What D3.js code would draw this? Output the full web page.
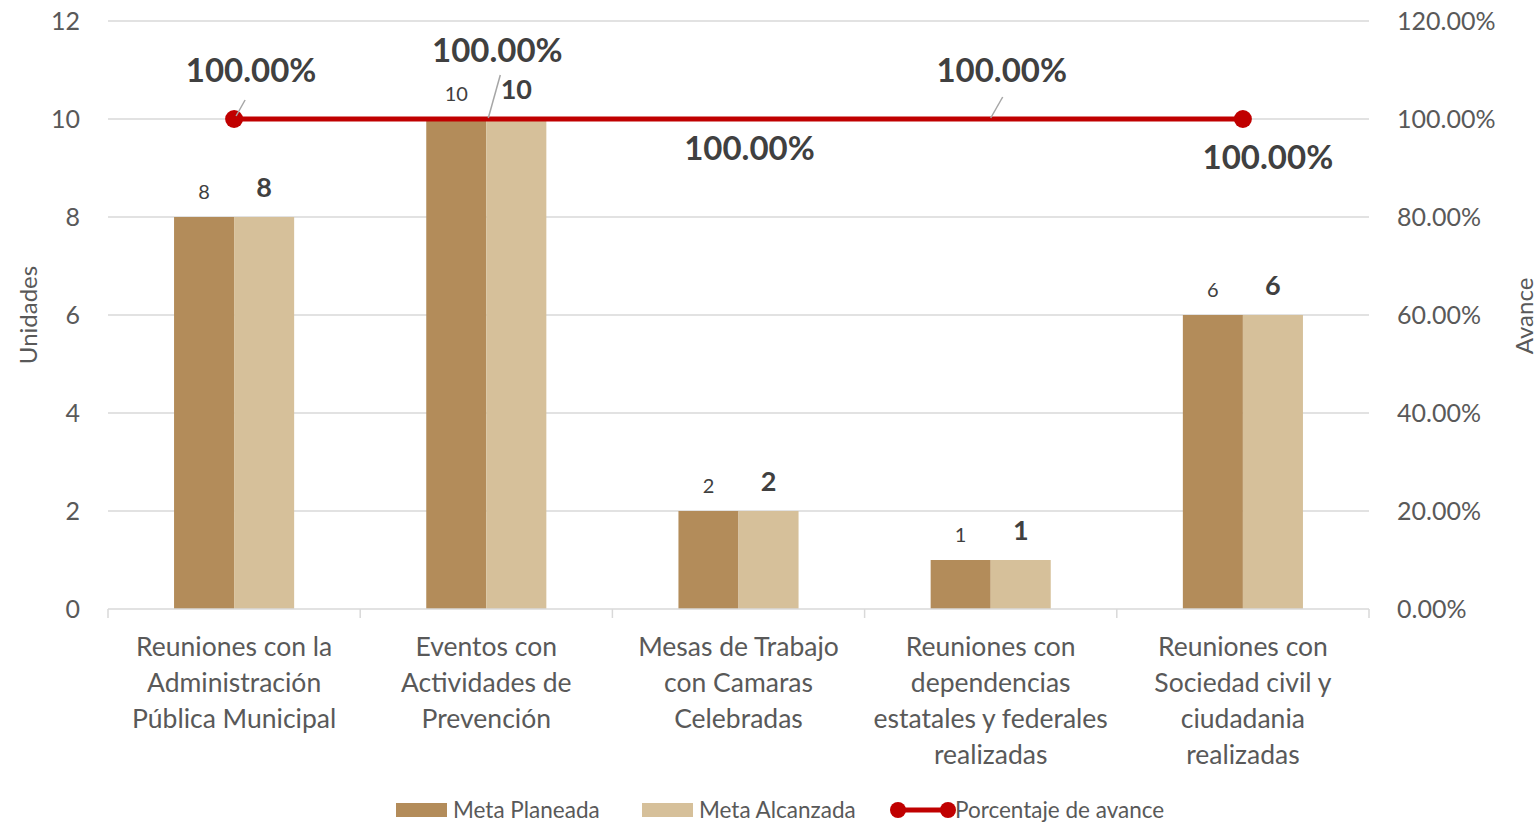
<!DOCTYPE html>
<html>
<head>
<meta charset="utf-8">
<script src="https://cdn.jsdelivr.net/npm/d3@7"></script>
<style>
  body { margin: 0; background: #fff; }
  text { font-family: Lato, "Open Sans", sans-serif; }
</style>
</head>
<body>
<script>
var width = 1540;
var height = 823;

// data
var categories = [
  ["Reuniones con la", "Administración", "Pública Municipal"],
  ["Eventos con", "Actividades de", "Prevención"],
  ["Mesas de Trabajo", "con Camaras", "Celebradas"],
  ["Reuniones con", "dependencias", "estatales y federales", "realizadas"],
  ["Reuniones con", "Sociedad civil y", "ciudadania", "realizadas"]
];
var metaPlaneada = [8, 10, 2, 1, 6];
var metaAlcanzada = [8, 10, 2, 1, 6];
var avance = [1, 1, 1, 1, 1];
var leftTicks = [0, 2, 4, 6, 8, 10, 12];
var rightTicks = [0, 0.2, 0.4, 0.6, 0.8, 1.0, 1.2];

var colPlan = "#B38C5A";
var colAlc = "#D6C09A";
var colLine = "#C00000";
var textCol = "#595959";

var margin = {left: 108, right: 171, top: 21, bottom: 214};
var x0 = margin.left, x1 = width - margin.right;
var yTop = margin.top, yBot = height - margin.bottom;

var svg = d3.select("body").append("svg")
  .attr("width", width).attr("height", height);

var x = d3.scaleBand().domain(d3.range(categories.length)).range([x0, x1]).paddingInner(0).paddingOuter(0);
var xs = d3.scaleBand().domain(["p", "a"]).range([0, x.bandwidth()]).paddingInner(0).paddingOuter(1.1);
var y = d3.scaleLinear().domain([0, 12]).range([yBot, yTop]);
var y2 = d3.scaleLinear().domain([0, 1.2]).range([yBot, yTop]);

// gridlines
svg.append("g").selectAll("line").data(leftTicks.slice(1)).enter().append("line")
  .attr("x1", x0).attr("x2", x1)
  .attr("y1", d => y(d)).attr("y2", d => y(d))
  .attr("stroke", "#d9d9d9").attr("stroke-width", 1.5);

// left axis labels
svg.append("g").selectAll("text").data(leftTicks).enter().append("text")
  .attr("x", 80).attr("y", d => y(d)).attr("dy", "0.35em")
  .attr("text-anchor", "end").attr("font-size", 25).attr("fill", textCol)
  .text(d => d);

// right axis labels
svg.append("g").selectAll("text").data(rightTicks).enter().append("text")
  .attr("x", 1397).attr("y", d => y2(d)).attr("dy", "0.35em")
  .attr("text-anchor", "start").attr("font-size", 25).attr("fill", textCol)
  .text(d => d3.format(".2%")(d));

// axis titles
svg.append("text").attr("transform", "translate(37," + 315 + ") rotate(-90)")
  .attr("text-anchor", "middle").attr("font-size", 24).attr("fill", textCol).text("Unidades");
svg.append("text").attr("transform", "translate(1533,316) rotate(-90)")
  .attr("text-anchor", "middle").attr("font-size", 24).attr("fill", textCol).text("Avance");

// bars
var groups = svg.append("g").selectAll("g").data(categories).enter().append("g")
  .attr("transform", (d, i) => "translate(" + x(i) + ",0)");
groups.append("rect")
  .attr("x", xs("p")).attr("width", xs.bandwidth())
  .attr("y", (d, i) => y(metaPlaneada[i])).attr("height", (d, i) => yBot - y(metaPlaneada[i]))
  .attr("fill", colPlan);
groups.append("rect")
  .attr("x", xs("a")).attr("width", xs.bandwidth())
  .attr("y", (d, i) => y(metaAlcanzada[i])).attr("height", (d, i) => yBot - y(metaAlcanzada[i]))
  .attr("fill", colAlc);
groups.append("text")
  .attr("x", xs("p") + xs.bandwidth() / 2).attr("y", (d, i) => y(metaPlaneada[i]) - 18)
  .attr("text-anchor", "middle").attr("font-size", 20).attr("fill", "#404040")
  .text((d, i) => metaPlaneada[i]);
groups.append("text")
  .attr("x", xs("a") + xs.bandwidth() / 2).attr("y", (d, i) => y(metaAlcanzada[i]) - 20)
  .attr("text-anchor", "middle").attr("font-size", 27).attr("font-weight", "bold").attr("fill", "#404040")
  .text((d, i) => metaAlcanzada[i]);

// bottom axis line and ticks
svg.append("line").attr("x1", x0).attr("x2", x1).attr("y1", yBot).attr("y2", yBot)
  .attr("stroke", "#d9d9d9").attr("stroke-width", 1.5);
svg.append("g").selectAll("line").data(d3.range(categories.length + 1)).enter().append("line")
  .attr("x1", i => x0 + i * x.bandwidth()).attr("x2", i => x0 + i * x.bandwidth())
  .attr("y1", yBot).attr("y2", yBot + 9)
  .attr("stroke", "#d9d9d9").attr("stroke-width", 1.5);

// category labels
groups.append("text")
  .attr("x", x.bandwidth() / 2).attr("y", 656)
  .attr("text-anchor", "middle").attr("font-size", 26.5).attr("fill", textCol)
  .each(function (d) {
    var t = d3.select(this);
    d.forEach(function (line, k) {
      t.append("tspan").attr("x", x.bandwidth() / 2).attr("dy", k === 0 ? 0 : 36).text(line);
    });
  });

// line series
var cx = i => x(i) + x.bandwidth() / 2;
svg.append("path").datum(avance)
  .attr("d", d3.line().x((d, i) => cx(i)).y(d => y2(d)))
  .attr("fill", "none").attr("stroke", colLine).attr("stroke-width", 5);
svg.append("g").selectAll("circle").data([0, avance.length - 1]).enter().append("circle")
  .attr("cx", i => cx(i)).attr("cy", i => y2(avance[i])).attr("r", 9).attr("fill", colLine);

// percentage labels with leader lines (offsets relative to point)
var labelOffsets = [
  {dx: 17, dy: -49, lead: [[11, -19], [2, -3]]},
  {dx: 11, dy: -69, lead: [[14, -44], [2, -1]]},
  {dx: 11, dy: 29, lead: null},
  {dx: 11, dy: -49, lead: [[12, -22], [0, -1]]},
  {dx: 25, dy: 38, lead: null}
];
avance.forEach(function (v, i) {
  var px = cx(i), py = y2(v), o = labelOffsets[i];
  if (o.lead) {
    svg.append("line")
      .attr("x1", px + o.lead[0][0]).attr("y1", py + o.lead[0][1])
      .attr("x2", px + o.lead[1][0]).attr("y2", py + o.lead[1][1])
      .attr("stroke", "#a6a6a6").attr("stroke-width", 1.5);
  }
  svg.append("text").attr("x", px + o.dx).attr("y", py + o.dy).attr("dy", "0.35em")
    .attr("text-anchor", "middle").attr("font-size", 33).attr("font-weight", "bold").attr("fill", "#404040")
    .text(d3.format(".2%")(v));
});

// legend
var legend = svg.append("g").attr("transform", "translate(0,810)");
legend.append("rect").attr("x", 396).attr("y", -7).attr("width", 51).attr("height", 14).attr("fill", colPlan);
legend.append("text").attr("x", 453).attr("y", 0).attr("dy", "0.35em").attr("font-size", 22.5).attr("fill", textCol).text("Meta Planeada");
legend.append("rect").attr("x", 642).attr("y", -7).attr("width", 51).attr("height", 14).attr("fill", colAlc);
legend.append("text").attr("x", 699).attr("y", 0).attr("dy", "0.35em").attr("font-size", 22.5).attr("fill", textCol).text("Meta Alcanzada");
legend.append("line").attr("x1", 898).attr("x2", 948).attr("y1", 0).attr("y2", 0).attr("stroke", colLine).attr("stroke-width", 5);
legend.append("circle").attr("cx", 898).attr("cy", 0).attr("r", 8).attr("fill", colLine);
legend.append("circle").attr("cx", 948).attr("cy", 0).attr("r", 8).attr("fill", colLine);
legend.append("text").attr("x", 955).attr("y", 0).attr("dy", "0.35em").attr("font-size", 22.5).attr("fill", textCol).text("Porcentaje de avance");
</script>
</body>
</html>
